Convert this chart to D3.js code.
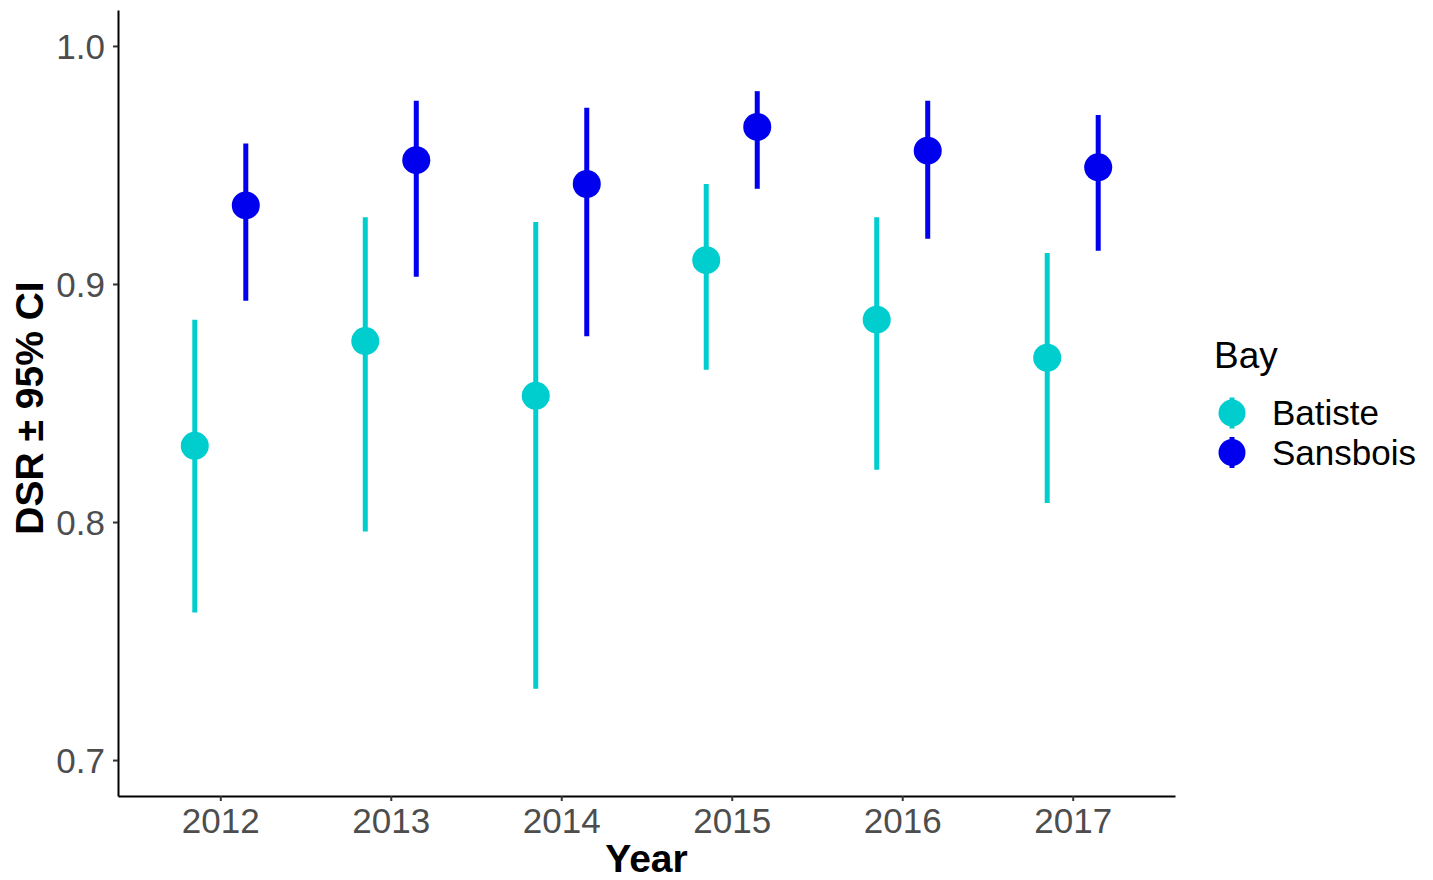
<!DOCTYPE html>
<html>
<head>
<meta charset="utf-8">
<script src="https://cdn.jsdelivr.net/npm/d3@7"></script>
<style>
  html, body { margin: 0; padding: 0; background: #fff; }
  svg { display: block; font-family: "Liberation Sans", Arial, sans-serif; }
</style>
</head>
<body>
<svg id="chart" width="1433" height="880"></svg>
<script>
// Daily survival rate (DSR) with 95% confidence intervals by year and bay
const years = ["2012", "2013", "2014", "2015", "2016", "2017"];
const bays = ["Batiste", "Sansbois"];
const bayColors = ["#00CDCD", "#0000EE"];

const batisteDSR   = [0.832, 0.876, 0.853, 0.910, 0.885, 0.869];
const batisteLower = [0.762, 0.796, 0.730, 0.864, 0.822, 0.808];
const batisteUpper = [0.885, 0.928, 0.926, 0.942, 0.928, 0.913];

const sansboisDSR   = [0.933, 0.952, 0.942, 0.966, 0.956, 0.949];
const sansboisLower = [0.893, 0.903, 0.878, 0.940, 0.919, 0.914];
const sansboisUpper = [0.959, 0.977, 0.974, 0.981, 0.977, 0.971];

const yTicks = [0.7, 0.8, 0.9, 1.0];

const rows = [];
years.forEach((yr, i) => {
  rows.push({ year: yr, bay: "Batiste", dsr: batisteDSR[i], lo: batisteLower[i], hi: batisteUpper[i] });
  rows.push({ year: yr, bay: "Sansbois", dsr: sansboisDSR[i], lo: sansboisLower[i], hi: sansboisUpper[i] });
});

const svg = d3.select("#chart");
const plotLeft = 118, plotRight = 1175, plotTop = 10, plotBottom = 796;

const x = d3.scalePoint().domain(years).range([plotLeft, plotRight]).padding(0.6);
const dodge = d3.scalePoint().domain(bays).range([-25.5, 25.5]);
const y = d3.scaleLinear().domain([0.6849, 1.0151]).range([plotBottom, plotTop]);
const color = d3.scaleOrdinal().domain(bays).range(bayColors);

// Axes
const xAxis = svg.append("g")
  .attr("transform", `translate(0,${plotBottom})`)
  .call(d3.axisBottom(x).tickSize(5).tickPadding(7).tickSizeOuter(0));
const yAxis = svg.append("g")
  .attr("transform", `translate(${plotLeft},0)`)
  .call(d3.axisLeft(y).tickValues(yTicks).tickFormat(d3.format(".1f")).tickSize(5).tickPadding(8).tickSizeOuter(0));

[xAxis, yAxis].forEach(g => {
  g.select(".domain").attr("stroke", "#000").attr("stroke-width", 2);
  g.selectAll(".tick line").attr("stroke", "#333").attr("stroke-width", 2);
  g.selectAll(".tick text").attr("fill", "#4D4D4D").attr("font-size", 35)
    .attr("font-family", "Liberation Sans, Arial, sans-serif");
});
yAxis.selectAll(".tick text").attr("dy", "0.36em");
xAxis.selectAll(".tick text").attr("dy", "0.71em");

// Axis titles
svg.append("text")
  .attr("x", (plotLeft + plotRight) / 2).attr("y", 872)
  .attr("text-anchor", "middle")
  .attr("font-size", 39).attr("font-weight", "bold").attr("fill", "#000")
  .text("Year");

svg.append("text")
  .attr("transform", `translate(43,408) rotate(-90)`)
  .attr("text-anchor", "middle")
  .attr("font-size", 39).attr("font-weight", "bold").attr("fill", "#000")
  .text("DSR ± 95% CI");

// Point ranges
const marks = svg.append("g");
marks.selectAll("line.ci").data(rows).join("line")
  .attr("class", "ci")
  .attr("x1", d => x(d.year) + dodge(d.bay))
  .attr("x2", d => x(d.year) + dodge(d.bay))
  .attr("y1", d => y(d.lo))
  .attr("y2", d => y(d.hi))
  .attr("stroke", d => color(d.bay))
  .attr("stroke-width", 5);

marks.selectAll("circle.pt").data(rows).join("circle")
  .attr("class", "pt")
  .attr("cx", d => x(d.year) + dodge(d.bay))
  .attr("cy", d => y(d.dsr))
  .attr("r", 14)
  .attr("fill", d => color(d.bay));

// Legend
const legend = svg.append("g").attr("transform", "translate(1214,0)");
legend.append("text")
  .attr("x", 0).attr("y", 368)
  .attr("font-size", 37).attr("fill", "#000")
  .text("Bay");

const items = legend.selectAll("g.item").data(bays).join("g")
  .attr("class", "item")
  .attr("transform", (d, i) => `translate(0,${413 + i * 39.5})`);
items.append("line")
  .attr("x1", 18).attr("x2", 18).attr("y1", -15.5).attr("y2", 15.5)
  .attr("stroke", d => color(d)).attr("stroke-width", 5);
items.append("circle")
  .attr("cx", 18).attr("cy", 0).attr("r", 13.5)
  .attr("fill", d => color(d));
items.append("text")
  .attr("x", 58).attr("y", 12)
  .attr("font-size", 35).attr("fill", "#000")
  .text(d => d);
</script>
</body>
</html>
